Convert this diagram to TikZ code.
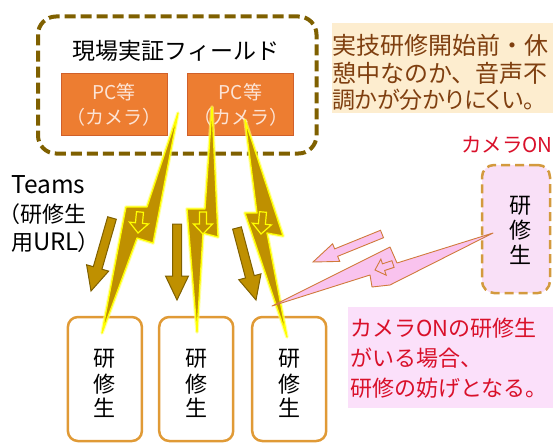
\documentclass[tikz,border=0pt]{standalone}
\usepackage{fontspec}
\setmainfont{Noto Sans CJK JP}
\usetikzlibrary{calc}
\definecolor{cFrame}{HTML}{7F6000}
\definecolor{cGold}{HTML}{BF9000}
\definecolor{cYellow}{HTML}{FFFF00}
\definecolor{cGlow}{HTML}{FFFF70}
\definecolor{cPC}{HTML}{ED7D31}
\definecolor{cPCline}{HTML}{D0602A}
\definecolor{cPCtext}{HTML}{FCE4D6}
\definecolor{cBeige}{HTML}{FDEDCF}
\definecolor{cBrownText}{HTML}{7F3F10}
\definecolor{cRed}{HTML}{D9102A}
\definecolor{cBox}{HTML}{E09A36}
\definecolor{cPinkBox}{HTML}{F9E0F7}
\definecolor{cPinkNote}{HTML}{FBE0FA}
\definecolor{cPinkBolt}{HTML}{F9C3EE}
\definecolor{cPinkLine}{HTML}{D07A3C}
\definecolor{cPinkDash}{HTML}{D39A3E}
\newcommand\blockarr[6][]{%
  \coordinate (ba-h) at ($(#3)!#6!(#2)$);
  \path[#1] ($(#2)!#4!90:(#3)$) -- ($(ba-h)!#4!90:(#3)$) -- ($(ba-h)!#5!90:(#3)$) -- (#3)
     -- ($(ba-h)!#5!-90:(#3)$) -- ($(ba-h)!#4!-90:(#3)$) -- ($(#2)!#4!-90:(#3)$) -- cycle;}
\newcommand\propjp{\addfontfeature{RawFeature=+palt}}
\tikzset{
  frame/.style={draw=cFrame, line width=4pt, dash pattern=on 11pt off 5pt, rounded corners=18pt},
  pcbox/.style={draw=cPCline, fill=cPC, line width=1pt, minimum width=106pt, minimum height=62pt, inner sep=0pt},
  pctext/.style={inner sep=0pt, anchor=base, text=cPCtext, font=\fontsize{19}{22}\selectfont},
  stbox/.style={draw=cBox, line width=2.5pt, rounded corners=10pt, minimum width=74pt, minimum height=124pt, inner sep=0pt},
  pinkbox/.style={draw=cPinkDash, fill=cPinkBox, line width=2.5pt, dash pattern=on 9pt off 5pt, rounded corners=12pt, minimum width=68pt, minimum height=128pt, inner sep=0pt},
  chr/.style={inner sep=0pt, anchor=base, font=\fontsize{22}{25}\selectfont},
  title/.style={inner sep=0pt, anchor=base, font=\fontsize{23}{26}\selectfont},
  teams/.style={inner sep=0pt, anchor=base west, font=\fontsize{22}{25}\selectfont\propjp},
  note/.style={inner sep=0pt, anchor=base west, text=cBrownText, font=\fontsize{24}{28}\selectfont},
  rednote/.style={inner sep=0pt, anchor=base west, text=cRed, font=\fontsize{22}{26}\selectfont},
  notebox/.style={fill=cBeige, inner sep=0pt},
  pinknotebox/.style={fill=cPinkNote, inner sep=0pt},
  brownarr/.style={fill=cGold, draw=cFrame, line width=1pt, line join=miter},
  boltglow/.style={draw=cGlow, line width=3.5pt, line join=round, opacity=.6},
  boltbody/.style={fill=cGold, draw=cYellow, line width=1.3pt, line join=round},
  smallarr/.style={fill=cGold, draw=cYellow, line width=1.2pt, line join=miter},
  pinkbolt/.style={fill=cPinkBolt, draw=cPinkLine, line width=.9pt, line join=round},
  pinkarr/.style={fill=cPinkBolt, draw=cPinkLine, line width=.9pt, line join=miter}
}
\begin{document}
\begin{tikzpicture}[x=1pt,y=-1pt]
\useasboundingbox (0,0) rectangle (553,444);
\clip (0,0) rectangle (553,444);
% field frame
\draw[frame] (38,16.5) rectangle (316.5,153.5);
\node[title] (ttl) at (176,59.5) {現場実証フィールド};
\node[pcbox] (pc1) at (114,104) {};
\node[pctext] (pc1a) at (114,99) {PC等};
\node[pctext] (pc1b) at (114,124) {（カメラ）};
\node[pcbox] (pc2) at (240.5,104) {};
\node[pctext] (pc2a) at (240.5,99) {PC等};
\node[pctext] (pc2b) at (240.5,124) {（カメラ）};
% note top right
\node[notebox, minimum width=228pt, minimum height=90pt] (nb) at (446,68) {};
\node[note] (n1) at (332,55) {実技研修開始前・休};
\node[note] (n2) at (332,82) {憩中なのか、音声不};
\node[note, font=\fontsize{23}{28}\selectfont\propjp] (n3) at (332,108) {調かが分かりにくい。};
\node[inner sep=0pt, anchor=base east, text=cRed, font=\fontsize{20.5}{24}\selectfont] (con) at (553,152) {カメラON};
% Teams label
\node[teams] (tm1) at (11,193) {{\fontsize{24.5}{26}\selectfont Teams}};
\node[teams] (tm2) at (9,222) {（研修生};
\node[teams] (tm3) at (11,250) {用{\fontsize{24}{26}\selectfont URL}）};
% student boxes
\node[stbox] (s1) at (104.9,379) {};
\node[stbox] (s2) at (196.2,379) {};
\node[stbox] (s3) at (289.2,379) {};
\foreach \nm/\xx in {s1/104.9, s2/196.2, s3/289.2}{
  \node[chr] (\nm a) at (\xx,366) {研};
  \node[chr] (\nm b) at (\xx,392) {修};
  \node[chr] (\nm c) at (\xx,416) {生};
}
% pink student box
\node[pinkbox] (ps) at (516,229) {};
\node[chr] (psa) at (520,213) {研};
\node[chr] (psb) at (520,238) {修};
\node[chr] (psc) at (520,263) {生};
% pink note
\node[pinknotebox, minimum width=212pt, minimum height=101pt] (pn) at (454,357.5) {};
\node[rednote] (r1) at (350,336) {カメラONの研修生};
\node[rednote] (r2) at (350,366) {がいる場合、};
\node[rednote] (r3) at (350,396) {研修の妨げとなる。};
% brown arrows
\coordinate (aAt) at (112,218); \coordinate (aAh) at (91,291);
\coordinate (aBt) at (177,224); \coordinate (aBh) at (177,300);
\coordinate (aCt) at (237,228); \coordinate (aCh) at (256,300);
\blockarr[brownarr]{aAt}{aAh}{4.5pt}{11.5pt}{24pt}
\blockarr[brownarr]{aBt}{aBh}{4.5pt}{11.5pt}{24pt}
\blockarr[brownarr]{aCt}{aCh}{4.5pt}{11.5pt}{24pt}
% lightning bolts
\foreach \st in {boltglow, boltbody}{
  \path[\st] (178,113) -- (153,243) -- (137,238) -- (102,333) -- (126,207) -- (147,207) -- cycle;
  \path[\st] (212,107) -- (218,237) -- (203,233) -- (197,332) -- (187,209) -- (205,209) -- cycle;
  \path[\st] (245,120) -- (283,236) -- (267,233) -- (287,337) -- (245,213) -- (257,213) -- cycle;
}
\coordinate (k1t) at (140,212); \coordinate (k1h) at (138,233);
\coordinate (k2t) at (203,212); \coordinate (k2h) at (203,234);
\coordinate (k3t) at (263,212); \coordinate (k3h) at (261,234);
\blockarr[smallarr]{k1t}{k1h}{3.5pt}{9.5pt}{10pt}
\blockarr[smallarr]{k2t}{k2h}{3.5pt}{9.5pt}{10pt}
\blockarr[smallarr]{k3t}{k3h}{3.5pt}{9.5pt}{10pt}
% pink bolt
\path[pinkbolt] (272,306) -- (390,247) -- (397,263) -- (493,233) -- (390,285) -- (372,287) -- (370,275) -- cycle;
\coordinate (q1t) at (393,264); \coordinate (q1h) at (375,270);
\blockarr[pinkarr]{q1t}{q1h}{3.5pt}{8.5pt}{9pt}
\coordinate (q2t) at (382,234); \coordinate (q2h) at (313,262);
\blockarr[pinkarr]{q2t}{q2h}{4pt}{9.5pt}{25pt}
\end{tikzpicture}
\end{document}
